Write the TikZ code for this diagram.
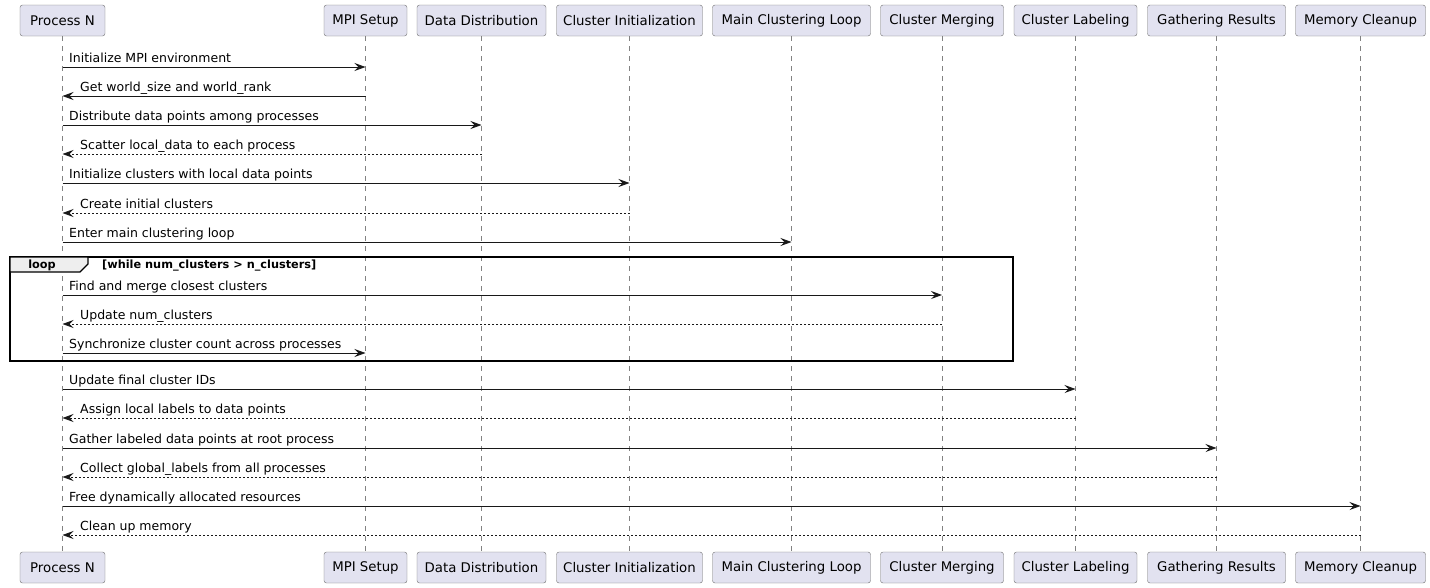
\documentclass[tikz,border=0pt]{standalone}
\usepackage{fontspec}
\setmainfont{DejaVu Sans}
\usetikzlibrary{arrows.meta}

\definecolor{partfill}{RGB}{226,226,240}
\definecolor{partline}{RGB}{110,110,110}
\definecolor{lifegray}{RGB}{130,130,130}
\definecolor{tabfill}{RGB}{238,238,238}
\definecolor{ink}{RGB}{24,24,24}

\tikzset{
  part/.style={draw=partline, fill=partfill, rounded corners=2.5pt, minimum height=31pt, inner sep=0pt, font=\fontsize{13.3}{16}\selectfont},
  life/.style={draw=lifegray, line width=0.7pt, dash pattern=on 5pt off 5pt},
  msg/.style={draw=ink, line width=0.8pt, -{Stealth[length=11pt,width=8pt,inset=4pt]}},
  reply/.style={msg, dash pattern=on 2pt off 2pt},
  lbl/.style={anchor=base west, inner sep=0pt, font=\fontsize{12.5}{14}\selectfont},
  loopframe/.style={draw=black, line width=1.5pt},
}

\begin{document}
\begin{tikzpicture}[x=1pt, y=-1pt]
            \useasboundingbox (0,0) rectangle (1430,587);

            % participants
            \node[part, minimum width=85pt] (pN) at (62.5,20.5) {Process N};
            \node[part, minimum width=83pt] (mpi) at (365.5,20.5) {MPI Setup};
            \node[part, minimum width=129pt] (dist) at (481.5,20.5) {Data Distribution};
            \node[part, minimum width=146pt] (init) at (629.5,20.5) {Cluster Initialization};
            \node[part, minimum width=158pt] (mainloop) at (791.5,20.5) {Main Clustering Loop};
            \node[part, minimum width=123pt] (merge) at (942,20.5) {Cluster Merging};
            \node[part, minimum width=123pt] (labeling) at (1075.5,20.5) {Cluster Labeling};
            \node[part, minimum width=138pt] (gather) at (1216.5,20.5) {Gathering Results};
            \node[part, minimum width=130pt] (cleanup) at (1360.5,20.5) {Memory Cleanup};

            \node[part, minimum width=85pt] (pNb) at (62.5,567.5) {Process N};
            \node[part, minimum width=83pt] (mpib) at (365.5,567.5) {MPI Setup};
            \node[part, minimum width=129pt] (distb) at (481.5,567.5) {Data Distribution};
            \node[part, minimum width=146pt] (initb) at (629.5,567.5) {Cluster Initialization};
            \node[part, minimum width=158pt] (mainloopb) at (791.5,567.5) {Main Clustering Loop};
            \node[part, minimum width=123pt] (mergeb) at (942,567.5) {Cluster Merging};
            \node[part, minimum width=123pt] (labelingb) at (1075.5,567.5) {Cluster Labeling};
            \node[part, minimum width=138pt] (gatherb) at (1216.5,567.5) {Gathering Results};
            \node[part, minimum width=130pt] (cleanupb) at (1360.5,567.5) {Memory Cleanup};

            % lifelines
            \foreach \p in {pN,mpi,dist,init,mainloop,merge,labeling,gather,cleanup}
                \draw[life] (\p.south) -- (\p b.north);

            % loop frame
            \draw[loopframe] (10,257) rectangle (1013,361);
            \draw[fill=tabfill, line width=1.2pt] (10,257) -- (88,257) -- (88,264) -- (80,272) -- (10,272) -- cycle;
            \node[anchor=base, inner sep=0pt, font=\fontsize{11.3}{13}\selectfont\bfseries] (looptag) at (42,268) {loop};
            \node[anchor=base west, inner sep=0pt, font=\fontsize{11.3}{13}\selectfont\bfseries] (loopcond) at (102,268) {[while num\_clusters > n\_clusters]};

            % messages
            \draw[msg] (pN |- 0,67) -- (mpi |- 0,67);
            \node[lbl] (m1) at (69,62) {Initialize MPI environment};
            \draw[msg] (mpi |- 0,96) -- (pN |- 0,96);
            \node[lbl] (m2) at (80,91) {Get world\_size and world\_rank};
            \draw[msg] (pN |- 0,125) -- (dist |- 0,125);
            \node[lbl] (m3) at (69,120) {Distribute data points among processes};
            \draw[reply] (dist |- 0,154) -- (pN |- 0,154);
            \node[lbl] (m4) at (80,149) {Scatter local\_data to each process};
            \draw[msg] (pN |- 0,183) -- (init |- 0,183);
            \node[lbl] (m5) at (69,178) {Initialize clusters with local data points};
            \draw[reply] (init |- 0,213) -- (pN |- 0,213);
            \node[lbl] (m6) at (80,208) {Create initial clusters};
            \draw[msg] (pN |- 0,242) -- (mainloop |- 0,242);
            \node[lbl] (m7) at (69,237) {Enter main clustering loop};

            \draw[msg] (pN |- 0,295) -- (merge |- 0,295);
            \node[lbl] (m8) at (69,290) {Find and merge closest clusters};
            \draw[reply] (merge |- 0,324) -- (pN |- 0,324);
            \node[lbl] (m9) at (80,319) {Update num\_clusters};
            \draw[msg] (pN |- 0,353) -- (mpi |- 0,353);
            \node[lbl] (m10) at (69,348) {Synchronize cluster count across processes};

            \draw[msg] (pN |- 0,389) -- (labeling |- 0,389);
            \node[lbl] (m11) at (69,384) {Update final cluster IDs};
            \draw[reply] (labeling |- 0,418) -- (pN |- 0,418);
            \node[lbl] (m12) at (80,413) {Assign local labels to data points};
            \draw[msg] (pN |- 0,448) -- (gather |- 0,448);
            \node[lbl] (m13) at (69,443) {Gather labeled data points at root process};
            \draw[reply] (gather |- 0,477) -- (pN |- 0,477);
            \node[lbl] (m14) at (80,472) {Collect global\_labels from all processes};
            \draw[msg] (pN |- 0,506) -- (cleanup |- 0,506);
            \node[lbl] (m15) at (69,501) {Free dynamically allocated resources};
            \draw[reply] (cleanup |- 0,535) -- (pN |- 0,535);
            \node[lbl] (m16) at (80,530) {Clean up memory};

        \end{tikzpicture}
\end{document}
